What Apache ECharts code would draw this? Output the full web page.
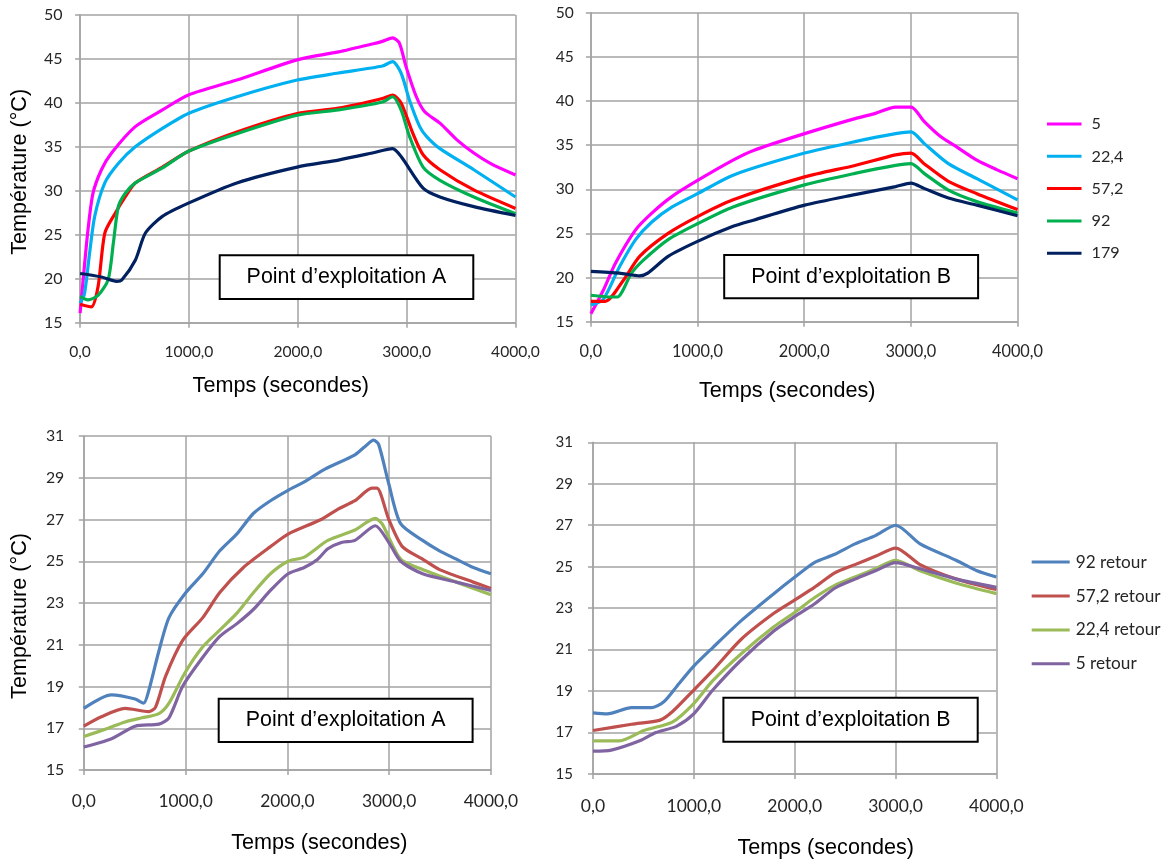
<!DOCTYPE html>
<html>
<head>
<meta charset="utf-8">
<script src="https://cdn.jsdelivr.net/npm/echarts@6.0.0/dist/echarts.min.js"></script>
<style>
  html, body { margin: 0; padding: 0; background: #ffffff; }
  #chart { width: 1167px; height: 860px; }
</style>
</head>
<body>
<div id="chart"></div>
<script>
// ---------- DATA (time in seconds, temperature in °C) ----------
const upperNames = ['5', '22,4', '57,2', '92', '179'];
const upperColors = ['#ff00ff', '#00b0f0', '#ff0000', '#00b050', '#002060'];
const lowerNames = ['92 retour', '57,2 retour', '22,4 retour', '5 retour'];
const lowerColors = ['#4f81bd', '#c0504d', '#9bbb59', '#8064a2'];
const xTicks = [0, 1000, 2000, 3000, 4000];

// Point d'exploitation A (upper chart)
const A_5 = [[0,16.1],[40,21.5],[72,25.5],[118,29.7],[196,32.4],[289,34.3],[507,37.3],[756,39.2],[995,40.9],[1440,42.6],[1994,44.9],[2373,45.8],[2684,46.7],[2777,47.0],[2871,47.4],[2933,46.8],[2995,44.1],[3089,40.7],[3166,39.0],[3306,37.7],[3462,35.8],[3617,34.3],[3773,33.1],[4000,31.8]];
const A_22 = [[0,17.2],[40,18.3],[87,22.9],[134,27.1],[227,30.9],[351,33.1],[507,35.0],[756,37.1],[995,38.8],[1440,40.7],[1994,42.6],[2373,43.4],[2777,44.2],[2871,44.7],[2949,43.4],[3026,40.3],[3120,37.3],[3182,36.2],[3306,34.8],[3617,32.4],[4000,29.3]];
const A_57 = [[0,17.1],[103,16.8],[165,19.1],[227,25.2],[320,27.4],[414,29.3],[507,30.9],[756,32.7],[995,34.5],[1440,36.7],[1994,38.8],[2373,39.4],[2777,40.5],[2871,40.9],[2949,40.0],[3058,36.5],[3151,34.1],[3306,32.4],[3617,30.1],[4000,28.0]];
const A_92 = [[0,18.0],[72,17.6],[165,18.1],[258,19.9],[305,24.0],[351,28.2],[414,29.7],[507,30.9],[756,32.6],[995,34.5],[1440,36.5],[1994,38.6],[2373,39.2],[2777,40.1],[2871,40.7],[2949,39.2],[3026,36.2],[3151,32.7],[3306,31.2],[3617,29.3],[4000,27.4]];
const A_179 = [[0,20.6],[196,20.2],[336,19.7],[383,19.85],[507,22.1],[600,25.2],[756,27.1],[995,28.6],[1440,30.9],[1994,32.7],[2373,33.5],[2684,34.3],[2871,34.8],[2949,33.9],[3151,30.3],[3306,29.3],[3617,28.2],[4000,27.2]];

// Point d'exploitation B (upper chart)
const B_5 = [[0,15.9],[114,18.5],[229,21.6],[419,25.4],[571,27.3],[762,29.2],[1000,31.0],[1333,33.3],[1524,34.4],[2004,36.3],[2476,38.0],[2667,38.6],[2857,39.3],[3002,39.3],[3124,37.7],[3276,36.0],[3429,34.8],[3619,33.3],[3810,32.2],[4000,31.2]];
const B_22 = [[0,16.9],[114,17.5],[267,21.2],[419,24.3],[571,26.3],[762,28.0],[1000,29.5],[1333,31.6],[2004,34.1],[2476,35.4],[2857,36.3],[3002,36.5],[3124,35.2],[3352,32.9],[3619,31.2],[4000,28.8]];
const B_57 = [[0,17.3],[133,17.3],[305,19.7],[457,22.4],[724,25.0],[1000,26.9],[1333,28.8],[2004,31.4],[2476,32.7],[2857,33.9],[3002,34.1],[3124,32.9],[3352,30.9],[3619,29.5],[4000,27.7]];
const B_92 = [[0,18.0],[190,17.8],[248,17.8],[381,20.5],[495,22.0],[724,24.3],[1000,26.1],[1333,28.0],[2004,30.5],[2476,31.8],[2857,32.7],[3002,32.9],[3124,31.8],[3352,29.9],[3619,28.6],[4000,27.3]];
const B_179 = [[0,20.7],[267,20.5],[457,20.2],[533,20.5],[724,22.4],[1000,24.1],[1333,25.8],[1524,26.5],[2004,28.2],[2476,29.4],[2857,30.3],[3002,30.7],[3124,30.1],[3352,29.0],[3619,28.2],[4000,27.0]];

// Point d'exploitation A (lower chart, retour)
const RA_92 = [[0,17.95],[272,18.6],[505,18.4],[588,18.2],[638,18.8],[738,20.7],[837,22.3],[1003,23.5],[1169,24.4],[1336,25.5],[1502,26.3],[1668,27.3],[1834,27.9],[2007,28.4],[2166,28.8],[2365,29.4],[2664,30.1],[2764,30.5],[2847,30.8],[2897,30.6],[2997,28.7],[3113,26.8],[3329,26.0],[3495,25.5],[3661,25.1],[3827,24.7],[4000,24.4]];
const RA_57 = [[0,17.1],[173,17.55],[405,17.95],[638,17.8],[704,18.0],[804,19.5],[970,21.2],[1169,22.3],[1336,23.5],[1568,24.7],[1834,25.7],[2007,26.3],[2332,27.0],[2498,27.5],[2664,27.9],[2831,28.5],[2880,28.5],[2997,27.0],[3130,25.7],[3329,25.1],[3495,24.6],[3827,24.0],[4000,23.7]];
const RA_22 = [[0,16.6],[239,17.0],[405,17.3],[571,17.5],[738,17.7],[837,18.2],[987,19.6],[1169,20.9],[1336,21.7],[1502,22.5],[1668,23.5],[1834,24.4],[2007,25.0],[2166,25.2],[2398,26.0],[2664,26.5],[2864,27.05],[2930,26.8],[3113,25.1],[3329,24.6],[3661,24.0],[4000,23.4]];
const RA_5 = [[0,16.1],[272,16.5],[505,17.1],[738,17.2],[837,17.5],[970,19.0],[1169,20.4],[1336,21.4],[1502,22.0],[1668,22.7],[1834,23.6],[2007,24.4],[2166,24.7],[2299,25.1],[2398,25.6],[2531,25.9],[2664,26.0],[2864,26.7],[2997,25.9],[3113,25.0],[3329,24.4],[3661,24.0],[4000,23.6]];

// Point d'exploitation B (lower chart, retour)
const RB_92 = [[0,17.95],[141,17.9],[383,18.2],[584,18.2],[705,18.5],[826,19.2],[999,20.2],[1188,21.1],[1470,22.4],[1793,23.7],[2002,24.5],[2195,25.2],[2397,25.6],[2598,26.1],[2800,26.5],[3001,27.0],[3243,26.1],[3605,25.3],[3807,24.8],[4000,24.5]];
const RB_57 = [[0,17.1],[383,17.4],[665,17.6],[786,18.0],[999,19.05],[1188,20.0],[1470,21.5],[1793,22.75],[2002,23.4],[2195,24.0],[2397,24.7],[2598,25.1],[2800,25.5],[3001,25.9],[3243,25.1],[3605,24.4],[4000,23.9]];
const RB_22 = [[0,16.6],[262,16.6],[504,17.1],[786,17.5],[999,18.4],[1188,19.5],[1470,20.8],[1793,22.1],[2002,22.8],[2195,23.5],[2397,24.1],[2598,24.5],[2800,24.9],[3001,25.3],[3243,24.8],[3605,24.2],[4000,23.7]];
const RB_5 = [[0,16.1],[181,16.15],[463,16.6],[624,17.0],[826,17.3],[999,17.9],[1188,19.05],[1470,20.5],[1793,21.9],[2002,22.6],[2195,23.2],[2397,23.96],[2598,24.4],[2800,24.8],[3001,25.2],[3243,24.9],[3605,24.4],[4000,24.0]];

const panelData = [
  [A_5, A_22, A_57, A_92, A_179],
  [B_5, B_22, B_57, B_92, B_179],
  [RA_92, RA_57, RA_22, RA_5],
  [RB_92, RB_57, RB_22, RB_5]
];
const boxTexts = ['Point d\u2019exploitation A', 'Point d\u2019exploitation B', 'Point d\u2019exploitation A', 'Point d\u2019exploitation B'];
const yTitle = 'Température (°C)';
const xTitle = 'Temps (secondes)';

// ---------- LAYOUT / STYLE ----------
const GRID = '#a3a3a3';
const LABEL = '#262626';
const TICKFONT = 'Lato, "Open Sans", sans-serif';
const ARIAL = '"Liberation Sans", Arial, sans-serif';
const TITLE_SIZE = 21.6;

const grids = [
  { left: 80.1, top: 15, width: 435.4, height: 307.7 },
  { left: 590.9, top: 12.7, width: 426.6, height: 309 },
  { left: 83.8, top: 436, width: 407.1, height: 334 },
  { left: 593, top: 442.3, width: 403.4, height: 331.7 }
];
const yRange = [[15, 50, 5], [15, 50, 5], [15, 31, 2], [15, 31, 2]];
const xLabelFont = [15.6, 16.3, 17.4, 17.5];
const yLabelFont = [16, 15.6, 15.8, 15];
const xLabelMargin = [21, 22, 23, 23.5];
const yLabelMargin = [17.6, 17, 19.6, 20];
const xNameGap = [52, 58.5, 62, 63];
const xNamePad = [[0, 34, 0, 0], [0, 34, 0, 0], [0, 0, 0, 64], [0, 0, 0, 62]];
const yNameGap = [49, 0, 52.5, 0];
const yNamePad = [[0, 6, 0, 0], null, [0, 26, 0, 0], null];
const boxRects = [
  { x: 219.7, y: 255.3, w: 253.6, h: 43.7 },
  { x: 724.2, y: 255, w: 253.9, h: 43.3 },
  { x: 218.7, y: 698.7, w: 253.9, h: 43.3 },
  { x: 723.4, y: 697.7, w: 254.3, h: 44 }
];

const fmtX = v => v.toFixed(1).replace('.', ',');

const lineAxisStyle = { color: GRID, width: 1.5 };

const xAxes = grids.map((g, i) => ({
  type: 'value', gridIndex: i, min: xTicks[0], max: xTicks[xTicks.length - 1], interval: 1000,
  axisLine: { show: true, lineStyle: lineAxisStyle },
  axisTick: { show: true, length: 5, lineStyle: lineAxisStyle },
  splitLine: { show: true, lineStyle: lineAxisStyle },
  axisLabel: { formatter: fmtX, fontSize: xLabelFont[i], margin: xLabelMargin[i], color: LABEL, fontFamily: TICKFONT, showMinLabel: true, showMaxLabel: true },
  name: xTitle, nameLocation: 'middle', nameGap: xNameGap[i],
  nameTextStyle: { fontSize: TITLE_SIZE, color: '#000', fontFamily: ARIAL, padding: xNamePad[i] }
}));

const yAxes = grids.map((g, i) => {
  const ax = {
    type: 'value', gridIndex: i, min: yRange[i][0], max: yRange[i][1], interval: yRange[i][2],
    axisLine: { show: true, lineStyle: lineAxisStyle },
    axisTick: { show: true, length: 5, lineStyle: lineAxisStyle },
    splitLine: { show: true, lineStyle: lineAxisStyle },
    axisLabel: { fontSize: yLabelFont[i], margin: yLabelMargin[i], color: LABEL, fontFamily: TICKFONT, showMinLabel: true, showMaxLabel: true }
  };
  if (yNameGap[i]) {
    ax.name = yTitle;
    ax.nameLocation = 'middle';
    ax.nameRotate = 90;
    ax.nameGap = yNameGap[i];
    ax.nameTextStyle = { fontSize: TITLE_SIZE, color: '#000', fontFamily: ARIAL, padding: yNamePad[i] };
  }
  return ax;
});

const series = [];
panelData.forEach((list, p) => {
  const names = p < 2 ? upperNames : lowerNames;
  const colors = p < 2 ? upperColors : lowerColors;
  list.forEach((d, k) => {
    series.push({
      type: 'line', name: names[k], xAxisIndex: p, yAxisIndex: p, data: d,
      showSymbol: false, symbol: 'none', smooth: 0.25,
      lineStyle: { width: 3.2, color: colors[k] }, itemStyle: { color: colors[k] },
      emphasis: { disabled: true }, z: 2 + k
    });
  });
});

const graphics = [];
boxRects.forEach((b, i) => {
  graphics.push({
    type: 'rect', shape: { x: b.x, y: b.y, width: b.w, height: b.h },
    style: { fill: '#ffffff', stroke: '#000000', lineWidth: 2 }, z: 100
  });
  graphics.push({
    type: 'text', x: b.x + b.w / 2, y: b.y + b.h / 2,
    style: { text: boxTexts[i], fill: '#000', font: '21.4px ' + ARIAL, textAlign: 'center', textVerticalAlign: 'middle' }, z: 101
  });
});

const option = {
  animation: false,
  backgroundColor: '#ffffff',
  grid: grids.map(g => Object.assign({ containLabel: false }, g)),
  xAxis: xAxes,
  yAxis: yAxes,
  legend: [
    {
      data: upperNames, orient: 'vertical', left: 1047, top: 116, padding: 0,
      itemWidth: 34.5, itemHeight: 14, itemGap: 16.3, icon: 'path://M0,5.5 L34.5,5.5 L34.5,8.5 L0,8.5 Z',
      textStyle: { fontSize: 16.2, color: LABEL, fontFamily: TICKFONT, padding: [0, 0, 0, 5] },
      selectedMode: false
    },
    {
      data: lowerNames, orient: 'vertical', left: 1031.7, top: 553.6, padding: 0,
      itemWidth: 38, itemHeight: 14, itemGap: 16.9, icon: 'path://M0,5.5 L38,5.5 L38,8.5 L0,8.5 Z',
      textStyle: { fontSize: 17.2, color: LABEL, fontFamily: TICKFONT, padding: [0, 0, 0, 1] },
      selectedMode: false
    }
  ],
  graphic: graphics,
  series: series
};

const chart = echarts.init(document.getElementById('chart'), null, { renderer: 'canvas' });
chart.setOption(option);
</script>
</body>
</html>
